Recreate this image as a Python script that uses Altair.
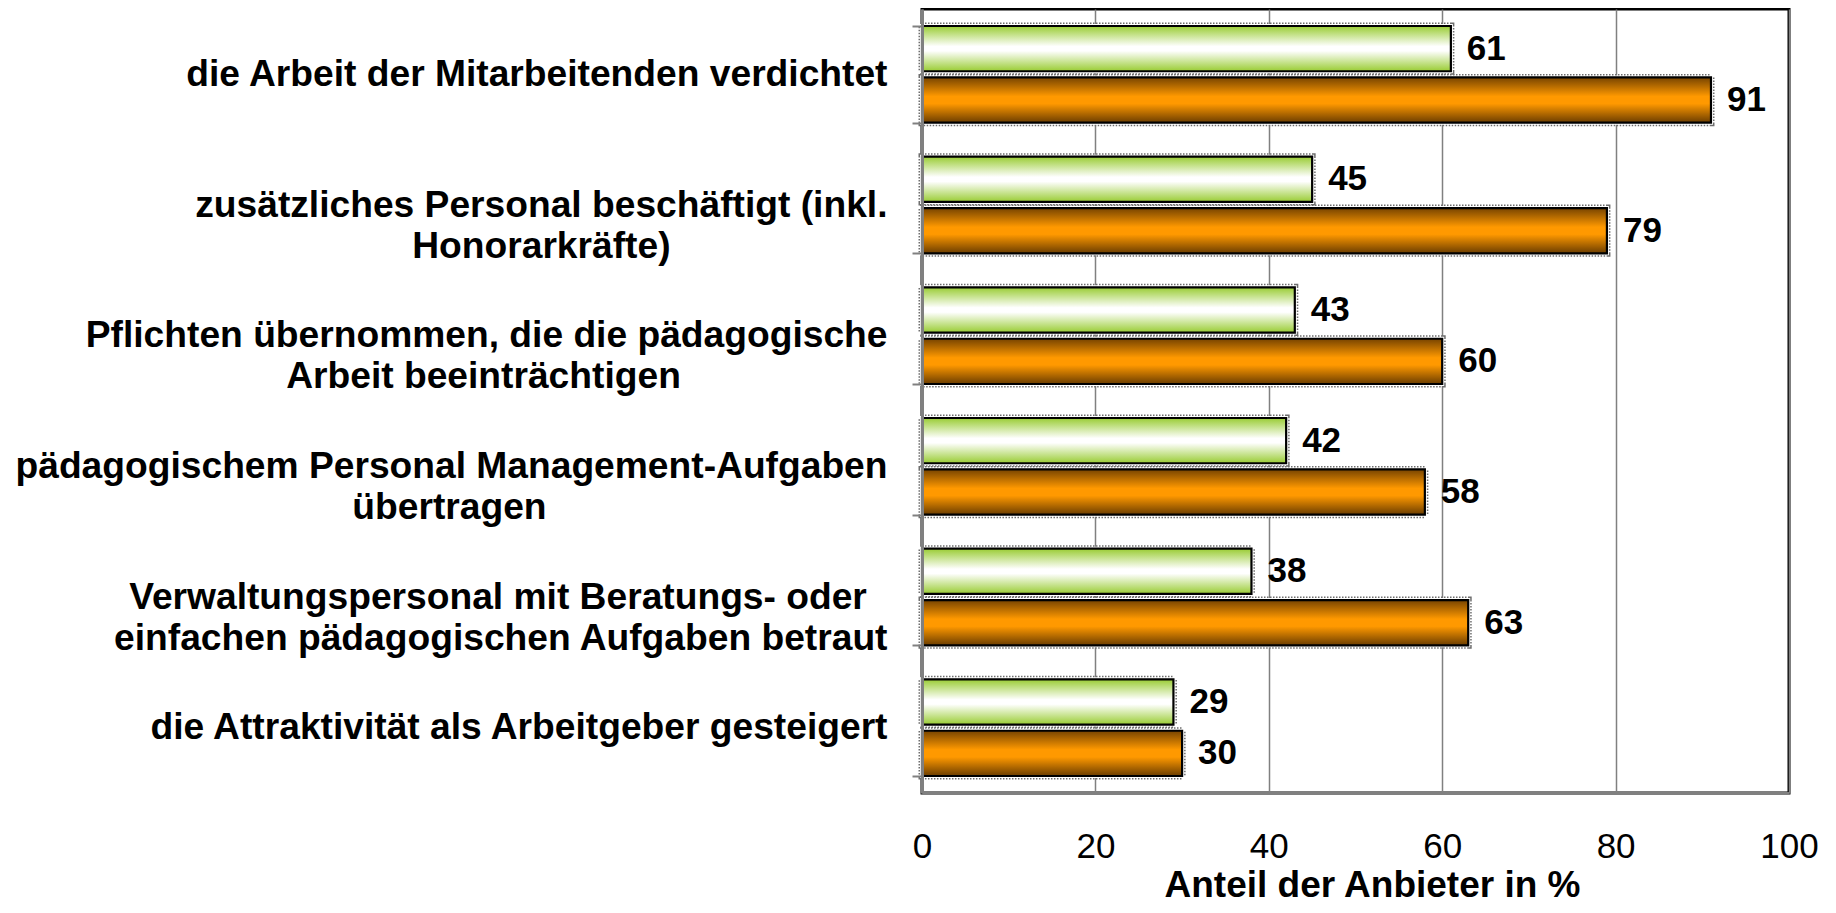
import altair as alt
import pandas as pd

# ---- data ----
label_lines = [
    ["die Arbeit der Mitarbeitenden verdichtet"],
    ["zusätzliches Personal beschäftigt (inkl.", "Honorarkräfte)"],
    ["Pflichten übernommen, die die pädagogische", "Arbeit beeinträchtigen"],
    ["pädagogischem Personal Management-Aufgaben", "übertragen"],
    ["Verwaltungspersonal mit Beratungs- oder", "einfachen pädagogischen Aufgaben betraut"],
    ["die Attraktivität als Arbeitgeber gesteigert"],
]
series = ["Serie 1", "Serie 2"]
values_green = [61, 45, 43, 42, 38, 29]
values_orange = [91, 79, 60, 58, 63, 30]
x_ticks = [0, 20, 40, 60, 80, 100]
x_title = "Anteil der Anbieter in %"

# Arial/Liberation Sans Bold advance widths (1/1000 em) used to centre the
# lines of a multi-line label inside its right-aligned block.
_W = {" ": 278, "(": 333, ")": 333, ",": 278, "-": 333, ".": 278,
      "A": 722, "H": 722, "M": 833, "P": 667, "V": 667,
      "a": 556, "b": 611, "c": 556, "d": 611, "e": 556, "f": 333, "g": 611,
      "h": 611, "i": 278, "k": 556, "l": 278, "m": 889, "n": 611, "o": 611,
      "p": 611, "r": 389, "s": 556, "t": 333, "u": 611, "v": 556, "w": 778,
      "z": 500, "ä": 556, "ü": 611}
NBSP = "\u00a0"
ZWSP = "\u200b"   # keeps the padding from being trimmed


def _width(s):
    return sum(_W.get(c, 556) for c in s)


def _make_label(lines):
    widest = max(_width(l) for l in lines)
    out = []
    for l in lines:
        pad = round((widest - _width(l)) / 2 / _W[" "])
        out.append(l + (NBSP * pad + ZWSP if pad > 0 else ""))
    return "\n".join(out)


labels = [_make_label(l) for l in label_lines]

rows = []
for lab, g, o in zip(labels, values_green, values_orange):
    rows.append({"label": lab, "series": series[0], "value": g})
    rows.append({"label": lab, "series": series[1], "value": o})
df = pd.DataFrame(rows)

FONT = "Liberation Sans"

green_grad = alt.Gradient(
    gradient="linear", x1=0, y1=0, x2=0, y2=1,
    stops=[alt.GradientStop(color="#99cc33", offset=0),
           alt.GradientStop(color="#ffffff", offset=0.45),
           alt.GradientStop(color="#ffffff", offset=0.55),
           alt.GradientStop(color="#99cc33", offset=1)])
orange_grad = alt.Gradient(
    gradient="linear", x1=0, y1=0, x2=0, y2=1,
    stops=[alt.GradientStop(color="#774400", offset=0),
           alt.GradientStop(color="#ff9900", offset=0.42),
           alt.GradientStop(color="#ff9900", offset=0.58),
           alt.GradientStop(color="#6b3d00", offset=1)])

y_axis = alt.Axis(
    title=None, grid=False, zindex=1,
    domainColor="#808080", domainWidth=3,
    tickColor="#808080", tickWidth=2, tickSize=10, tickBand="extent",
    labelFont=FONT, labelFontSize=37.2, labelFontWeight="bold", labelColor="black",
    labelPadding=25, labelLimit=1200, labelLineHeight=41,
    labelExpr="split(datum.label, '\\n')",
)
x_axis = alt.Axis(
    values=x_ticks, format="d", zindex=0,
    domainColor="#808080", domainWidth=3, ticks=False,
    grid=True, gridColor="#808080", gridWidth=1.5,
    labelFont=FONT, labelFontSize=35, labelColor="black", labelPadding=36,
    labelFlush=False, labelOverlap=False,
    title=x_title, titleFont=FONT, titleFontSize=37, titleFontWeight="bold",
    titleColor="black", titleX=450, titleY=103, titleAlign="center",
    titleBaseline="alphabetic",
)

base = alt.Chart(df).encode(
    y=alt.Y("label:N", sort=labels,
            scale=alt.Scale(paddingInner=0.26, paddingOuter=0.13), axis=y_axis),
    yOffset=alt.YOffset("series:N", sort=series,
                        scale=alt.Scale(domain=series, paddingInner=0.12, paddingOuter=0)),
    x=alt.X("value:Q", scale=alt.Scale(domain=[0, 100], nice=False), axis=x_axis),
)

frame = base.mark_bar(fill="white", fillOpacity=0, stroke="#6e6e6e",
                      strokeWidth=7, strokeDash=[1.5, 1.5])
halo = base.mark_bar(fill="white", fillOpacity=0, stroke="white", strokeWidth=4)
green = base.transform_filter(alt.datum.series == series[0]).mark_bar(
    fill=green_grad, stroke="black", strokeWidth=2.2)
orange = base.transform_filter(alt.datum.series == series[1]).mark_bar(
    fill=orange_grad, stroke="black", strokeWidth=2.2)
text = base.mark_text(align="left", baseline="middle", dx=16, font=FONT,
                      fontSize=35, fontWeight="bold", color="black").encode(
    text=alt.Text("value:Q", format="d"))

chart = (
    alt.layer(frame, halo, green, orange, text)
    .properties(width=867, height=784,
                autosize=alt.AutoSizeParams(type="none"),
                padding={"left": 914, "top": 1, "right": 38, "bottom": 112})
    .configure(font=FONT)
    .configure_view(stroke="black", strokeWidth=3)
)

chart.save("out.html", embed_options={"renderer": "svg", "actions": False})
